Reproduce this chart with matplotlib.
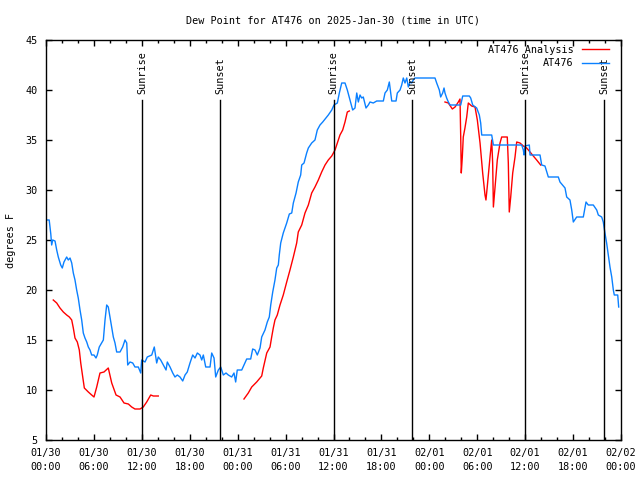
import matplotlib
matplotlib.use('Agg')
import matplotlib.pyplot as plt
import numpy as np

plt.rcParams['font.family'] = 'DejaVu Sans Mono'

# hours since 2025-01-30 00:00 UTC
obs_hours = [0.08, 0.4, 0.6, 0.71, 0.84, 1.13, 1.34, 1.54, 1.84, 2.04, 2.25, 2.59, 2.79, 3.01,
             3.22, 3.42, 3.63, 3.84, 4.04, 4.26, 4.47, 4.67, 4.88, 5.10, 5.30, 5.51, 5.72, 6.01,
             6.26, 6.42, 6.67, 6.97, 7.18, 7.39, 7.60, 7.80, 8.01, 8.23, 8.43, 8.64, 8.85, 9.27,
             9.60, 9.89, 10.11, 10.23, 10.52, 10.86, 11.14, 11.56, 11.86, 11.98, 12.40, 12.68,
             13.24, 13.56, 13.86, 14.06, 14.36, 14.69, 15.03, 15.19, 15.53, 15.87, 16.15, 16.44,
             16.78, 17.12, 17.41, 17.69, 18.03, 18.37, 18.66, 18.95, 19.28, 19.50, 19.70, 20.00,
             20.54, 20.75, 21.04, 21.25, 21.58, 21.88, 22.20, 22.54, 22.83, 23.25, 23.54, 23.75,
             23.95, 24.51, 24.79, 25.13, 25.63, 25.88, 26.17, 26.46, 26.80, 27.01, 27.42, 27.71,
             27.96, 28.14, 28.39, 28.67, 28.89, 29.09, 29.21, 29.39, 29.71, 30.14, 30.47, 30.77,
             30.97, 31.31, 31.59, 31.89, 32.02, 32.31, 32.64, 32.85, 33.27, 33.68, 33.97, 34.31,
             34.65, 35.06, 35.35, 35.78, 36.06, 36.48, 36.73, 37.03, 37.44, 37.73, 38.07, 38.40,
             38.69, 38.91, 39.11, 39.32, 39.53, 39.73, 40.07, 40.36, 40.57, 40.98, 41.41, 42.24,
             42.45, 42.74, 42.99, 43.29, 43.83, 43.99, 44.33, 44.54, 44.74, 44.95, 45.17, 45.37,
             45.58, 45.79, 45.99, 46.21, 48.71, 48.92, 49.25, 49.42, 49.67, 49.84, 49.96, 50.17,
             50.38, 50.59, 51.93, 52.18, 53.01, 53.18, 53.43, 53.93, 54.26, 54.43, 54.56, 55.81,
             56.02, 59.57, 59.77, 59.86, 59.98, 60.52, 60.61, 61.86, 62.07, 62.48, 62.90, 64.15,
             64.36, 64.99, 65.20, 65.61, 65.83, 66.03, 66.45, 67.28, 67.62, 67.90, 68.53, 68.96,
             69.16, 69.58, 69.78, 69.99, 70.20, 70.41, 70.62, 70.84, 71.04, 71.16, 71.59, 71.71]
obs_dewpt = [27.0, 27.0, 25.6, 24.5, 25.0, 24.9, 24.0, 23.3, 22.5, 22.2, 22.8, 23.3, 23.0, 23.2,
             22.7, 21.7, 21.0, 20.0, 19.2, 18.0, 17.0, 15.7, 15.2, 14.8, 14.3, 14.0, 13.5, 13.5,
             13.2, 13.5, 14.3, 14.7, 15.0, 17.0, 18.5, 18.3, 17.3, 16.3, 15.3, 14.7, 13.8, 13.8,
             14.3, 15.0, 14.7, 12.5, 12.8, 12.7, 12.3, 12.3, 11.7, 13.0, 12.8, 13.3,
             13.5, 14.3, 12.7, 13.3, 13.0, 12.5, 12.0, 12.8, 12.3, 11.7, 11.3, 11.5,
             11.3, 10.9, 11.5, 11.8, 12.7, 13.5, 13.2, 13.7, 13.5, 13.0, 13.5, 12.3,
             12.3, 13.7, 13.2, 11.3, 12.0, 12.3, 11.5, 11.7, 11.5, 11.3, 11.7, 10.8,
             12.0, 12.0, 12.5, 13.1, 13.1, 14.1, 14.0, 13.5, 14.2, 15.3, 16.0, 16.8,
             17.3, 18.5, 19.8, 21.0, 22.2, 22.5, 23.5, 24.7, 25.7, 26.7, 27.6, 27.7,
             28.7, 29.7, 30.8, 31.5, 32.5, 32.7, 33.7, 34.2, 34.7, 35.0, 36.0, 36.5,
             36.8, 37.2, 37.5, 38.0, 38.5, 38.7, 39.7, 40.7, 40.7, 40.0, 39.0, 38.0,
             38.2, 39.7, 38.8, 39.5, 39.2, 39.3, 38.2, 38.5, 38.8, 38.7, 38.9, 38.9,
             39.7, 40.0, 40.8, 38.9, 38.9, 39.7, 40.0, 40.5, 41.2, 40.7, 41.2, 40.3,
             40.8, 40.7, 41.0, 41.2, 41.2, 40.7, 40.0, 39.3, 39.7, 40.2, 39.7, 39.2,
             38.8, 38.5, 38.5, 39.4, 39.4, 39.2, 38.5, 38.2, 37.5, 36.7, 35.5, 35.5,
             34.5, 34.5, 34.0, 33.5, 34.4, 34.5, 33.5, 33.5, 32.5, 32.4, 31.3, 31.3,
             30.8, 30.2, 29.3, 29.0, 28.0, 26.8, 27.3, 27.3, 28.8, 28.5, 28.5, 28.0,
             27.5, 27.3, 26.8, 25.7, 24.7, 23.5, 22.3, 21.3, 20.0, 19.5, 19.5, 18.3]

# analysis series (NaN = gap)
ana_hours = [0.91, 1.34, 1.75, 2.17, 2.59, 2.92, 3.22, 3.42, 3.63, 3.92, 4.17, 4.35, 4.60, 4.80,
             5.30, 5.72, 6.01, 6.35, 6.76, 7.26, 7.80, 8.23, 8.77, 9.27, 9.77, 10.31, 10.73,
             11.14, 11.77, 12.18, 12.61, 13.11, 13.44, 14.06, 19.0,
             24.79, 25.33, 25.76, 26.38, 27.01, 27.21, 27.64, 28.05, 28.26, 28.46, 28.67, 28.96,
             29.30, 29.71, 30.14, 30.55, 30.97, 31.39, 31.59, 32.02, 32.43, 32.85, 33.27, 33.68,
             34.10, 34.52, 34.94, 35.35, 35.78, 36.19, 36.48, 36.81, 37.15, 37.44, 37.73, 37.98,
             44.0,
             49.96, 50.38, 50.88, 51.22, 51.63, 51.84, 51.93, 52.00, 52.13, 52.25, 52.46, 52.68,
             52.88, 53.30, 53.72, 54.01, 54.35, 54.68, 54.97, 55.09, 55.25, 55.60, 55.81, 55.93,
             56.02, 56.23, 56.51, 56.85, 57.06, 57.76, 57.89, 58.01, 58.19, 58.44, 58.73, 58.94,
             59.35, 59.77, 60.19, 60.61, 61.02, 61.44, 61.94]
ana_dewpt = [19.0, 18.7, 18.2, 17.8, 17.5, 17.3, 17.0, 16.2, 15.2, 14.8, 14.0, 12.7, 11.3, 10.2,
             9.8, 9.5, 9.3, 10.3, 11.7, 11.8, 12.2, 10.7, 9.5, 9.3, 8.7, 8.6, 8.3,
             8.1, 8.1, 8.3, 8.8, 9.5, 9.4, 9.4, np.nan,
             9.1, 9.7, 10.3, 10.8, 11.4, 12.2, 13.7, 14.3, 15.3, 16.2, 17.0, 17.5,
             18.5, 19.5, 20.8, 22.0, 23.3, 24.7, 25.8, 26.5, 27.7, 28.5, 29.7, 30.3,
             31.0, 31.8, 32.5, 33.0, 33.4, 34.0, 34.7, 35.5, 36.0, 36.8, 37.8, 37.9,
             np.nan,
             38.8, 38.7, 38.1, 38.3, 38.8, 39.1, 35.3, 31.7, 33.3, 35.3, 36.2, 37.3,
             38.7, 38.4, 38.3, 37.0, 34.7, 31.7, 29.5, 29.0, 30.3, 33.3, 35.0, 32.7,
             28.3, 30.3, 33.0, 34.7, 35.3, 35.3, 32.7, 27.8, 29.3, 31.7, 33.3, 34.8,
             34.7, 34.4, 34.2, 33.8, 33.4, 33.0, 32.5]

sun_hours = [12.02, 21.79, 36.03, 45.83, 59.98, 69.87]
sun_labels = ['Sunrise', 'Sunset', 'Sunrise', 'Sunset', 'Sunrise', 'Sunset']

xtick_hours = np.arange(0, 73, 6)
xtick_labels = ['01/30\n00:00', '01/30\n06:00', '01/30\n12:00', '01/30\n18:00',
                '01/31\n00:00', '01/31\n06:00', '01/31\n12:00', '01/31\n18:00',
                '02/01\n00:00', '02/01\n06:00', '02/01\n12:00', '02/01\n18:00',
                '02/02\n00:00']

FS = 7.3
fig = plt.figure(figsize=(6.4, 4.8), dpi=100)
ax = fig.add_axes([46 / 640, 40 / 480, 575 / 640, 400 / 480])

ax.plot(ana_hours, ana_dewpt, color='#ff0000', linewidth=1, label='AT476 Analysis')
ax.plot(obs_hours, obs_dewpt, color='#0a80ff', linewidth=1, label='AT476')

for h, lab in zip(sun_hours, sun_labels):
    ax.plot([h, h], [5, 39], color='black', linewidth=1)
    ax.text(h, 39.6, lab, rotation=90, ha='center', va='bottom', fontsize=FS)

ax.set_xlim(0, 72)
ax.set_ylim(5, 45)
ax.set_xticks(xtick_hours)
ax.set_xticklabels(xtick_labels, fontsize=FS, linespacing=1.45)
ax.set_xticks(np.arange(0, 73, 2), minor=True)
ax.set_yticks(np.arange(5, 46, 5))
ax.tick_params(axis='y', labelsize=FS)
ax.tick_params(which='both', direction='in', top=True, right=True, width=1)
ax.tick_params(which='major', length=4.5, pad=6)
ax.tick_params(which='minor', length=2.5)
for s in ax.spines.values():
    s.set_linewidth(1)

ax.set_ylabel('degrees F', fontsize=FS, labelpad=7)
ax.set_title('Dew Point for AT476 on 2025-Jan-30 (time in UTC)', fontsize=FS, pad=12)

ax.legend(loc='upper right', bbox_to_anchor=(0.979, 0.988), frameon=False,
          markerfirst=False, fontsize=FS, handlelength=2.7, handletextpad=0.8,
          labelspacing=0.35, borderpad=0, borderaxespad=0)

fig.savefig('out.png', dpi=100)
